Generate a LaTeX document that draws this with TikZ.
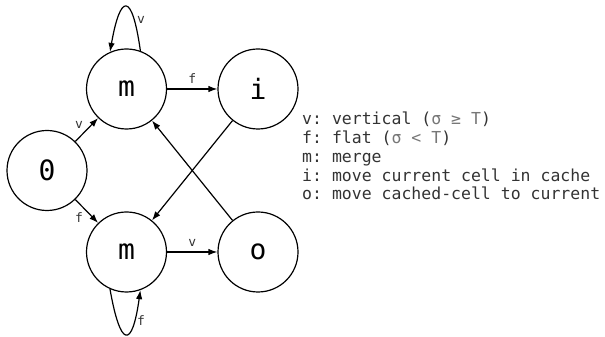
\documentclass[tikz,border=0pt]{standalone}
\usepackage{xcolor}
\usepackage{fontspec}
\setmonofont{DejaVu Sans Mono}
\usepackage{tikz}
\usetikzlibrary{arrows.meta}

\definecolor{keytext}{HTML}{333333}
\definecolor{keysym}{HTML}{777777}
\newcommand{\ks}[1]{\textcolor{keysym}{#1}}

\tikzset{
  state/.style={draw, circle, line width=1.2pt, minimum size=80pt, inner sep=0pt,
    font=\ttfamily\fontsize{28}{28}\selectfont},
  edge/.style={->, line width=1.2pt},
  lbl/.style={font=\ttfamily\fontsize{13}{13}\selectfont, text=keytext, inner sep=2pt},
  keyline/.style={anchor=base west, inner sep=0pt, text=keytext,
    font=\ttfamily\fontsize{16.5}{16.5}\selectfont}
}

\begin{document}
\begin{tikzpicture}[x=1pt, y=1pt, >={Latex[length=9pt,width=6.5pt]}]
                \useasboundingbox (0,0) rectangle (605,337);
                \node[state] (zero) at (47,166.5) {0};
                \node[state] (mtop) at (126.5,248) {m};
                \node[state] (in) at (258,248) {i};
                \node[state] (mbot) at (126.5,85) {m};
                \node[state] (out) at (258,85) {o};
                \draw[edge] (zero) -- node[lbl, above left, pos=0.45] {v} (mtop);
                \draw[edge] (zero) -- node[lbl, below left, pos=0.45] {f} (mbot);
                \draw[edge] (mtop) -- node[lbl, above=3pt] {f} (in);
                \draw[edge] (mbot) -- node[lbl, above=3pt] {v} (out);
                \draw[edge] (in) -- (mbot);
                \draw[edge] (out) -- (mtop);
                \draw[edge] (mtop.70) .. controls +(98:60) and +(80:60) .. node[lbl, pos=0.22, right] {v} (mtop.114);
                \draw[edge] (mbot.246) .. controls +(280:60) and +(262:60) .. node[lbl, pos=0.78, right] {f} (mbot.290);
                \node[keyline] (keyv) at (302,212) {v: vertical (\ks{σ ≥ T})};
                \node[keyline] (keyf) at (302,193.3) {f: flat (\ks{σ < T})};
                \node[keyline] (keym) at (302,174.6) {m: merge};
                \node[keyline] (keyi) at (302,155.9) {i: move current cell in cache};
                \node[keyline] (keyo) at (302,137.2) {o: move cached-cell to current};
            \end{tikzpicture}
\end{document}
